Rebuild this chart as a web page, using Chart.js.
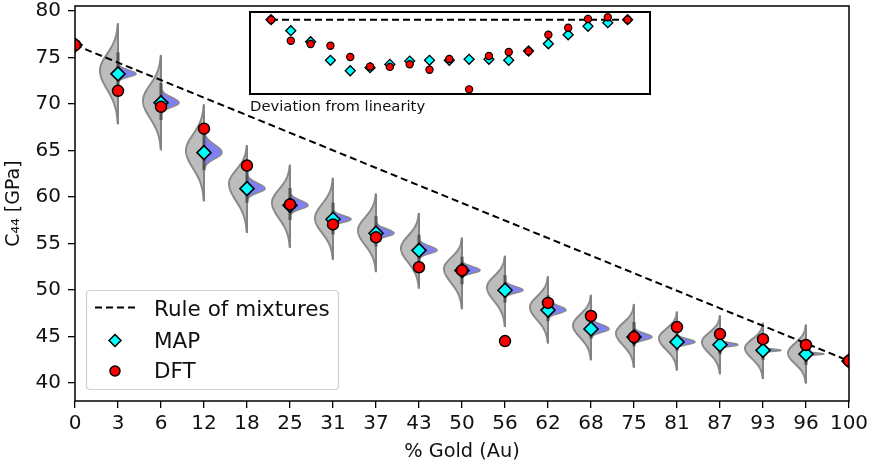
<!DOCTYPE html>
<html>
<head>
<meta charset="utf-8">
<script src="https://cdn.jsdelivr.net/npm/chart.js@4.4.1/dist/chart.umd.min.js"></script>
<style>
  html, body { margin: 0; padding: 0; background: #fff; }
  #wrap { position: relative; width: 871px; height: 462px; }
  #main { position: absolute; left: 0; top: 0; display: block; }
  #inset { position: absolute; left: 247px; top: 9px; display: block; }
  #insetLabel { position: absolute; left: 250px; top: 97px; font-family: "DejaVu Sans"; font-size: 14.8px; color: #111; white-space: nowrap; }
</style>
</head>
<body>
<div id="wrap">
  <canvas id="main" width="871" height="462"></canvas>
  <canvas id="inset" width="406" height="88"></canvas>
  <div id="insetLabel">Deviation from linearity</div>
</div>
<script>
// ---------------- DATA ----------------
const categories = ['0','3','6','12','18','25','31','37','43','50','56','62','68','75','81','87','93','96','100'];

// Rule of mixtures end points (pure Ag / pure Au), GPa
const ruleOfMixturesEnds = [76.35, 42.36];

// MAP estimates, GPa
const mapValues = [76.35, 73.24, 70.13, 64.77, 60.90, 59.10, 57.60, 56.10, 54.26, 52.10, 49.97, 47.83, 45.80, 44.93, 44.40, 44.10, 43.50, 43.10, 42.36];

// DFT values, GPa
const dftValues = [76.35, 71.42, 69.70, 67.35, 63.38, 59.20, 57.05, 55.66, 52.44, 52.10, 44.50, 48.60, 47.20, 44.93, 46.00, 45.25, 44.70, 44.08, 42.36];

// Posterior violin (grey half): upper end, mode, lower end, GPa
const violinTop    = [null, 78.60, 75.20, 69.90, 65.50, 63.40, 62.00, 60.30, 58.20, 55.55, 53.60, 51.40, 49.40, 48.40, 47.60, 47.20, 46.40, 46.20, null];
const violinMode   = [null, 73.60, 70.35, 65.00, 61.45, 59.40, 57.70, 56.40, 54.50, 52.30, 50.30, 48.15, 46.20, 45.35, 44.80, 44.40, 43.75, 43.20, null];
const violinBottom = [null, 67.90, 65.10, 59.60, 56.20, 54.60, 53.30, 52.00, 50.20, 48.00, 46.10, 44.30, 42.50, 41.70, 41.40, 41.00, 40.50, 40.00, null];
// Blue half spread around the MAP value, GPa
const blueSpread   = [null, 0.32, 0.45, 0.65, 0.45, 0.40, 0.30, 0.35, 0.35, 0.30, 0.30, 0.35, 0.35, 0.30, 0.25, 0.16, 0.10, 0.09, null];

// Inset: deviation from linearity, GPa
const insetMAP = [0, -2.02, -4.04, -7.45, -9.36, -8.80, -8.20, -7.60, -7.45, -7.45, -7.27, -7.27, -7.45, -5.75, -4.42, -2.76, -1.21, -0.55, 0];
const insetDFT = [0, -3.85, -4.46, -4.77, -6.85, -8.60, -8.66, -8.17, -9.17, -7.20, -12.78, -6.66, -5.93, -5.81, -2.76, -1.47, 0.13, 0.44, 0];

// ---------------- STYLE ----------------
const FONT = 'DejaVu Sans';
const GREY_FILL = '#bdbdbd', GREY_EDGE = '#8a8a8a', BLUE_FILL = 'rgb(128,128,245)';
const HALF_W = 18;

const ruleSeries = categories.map((c, i) => i === 0 ? ruleOfMixturesEnds[0] : (i === categories.length - 1 ? ruleOfMixturesEnds[1] : null));

const violinPlugin = {
  id: 'violins',
  beforeDatasetsDraw(chart) {
    const { ctx, chartArea: a, scales: { x, y } } = chart;
    ctx.save();
    ctx.beginPath(); ctx.rect(a.left, a.top, a.right - a.left, a.bottom - a.top); ctx.clip();
    for (let i = 0; i < categories.length; i++) {
      if (violinTop[i] == null) continue;
      const cx = x.getPixelForValue(i);
      const pt = y.getPixelForValue(violinTop[i]);
      const pm = y.getPixelForValue(violinMode[i]);
      const pb = y.getPixelForValue(violinBottom[i]);
      const su = (pm - pt) / 2.8, sd = (pb - pm) / 2.8;
      // grey left half
      ctx.beginPath();
      ctx.moveTo(cx, pt);
      for (let py = pt; py <= pb; py += 0.5) {
        const s = py < pm ? su : sd;
        const d = (py - pm) / s;
        ctx.lineTo(cx - HALF_W * Math.exp(-0.5 * d * d), py);
      }
      ctx.lineTo(cx, pb);
      ctx.closePath();
      ctx.fillStyle = GREY_FILL; ctx.fill();
      ctx.lineWidth = 2; ctx.strokeStyle = GREY_EDGE; ctx.lineJoin = 'round'; ctx.stroke();
      // blue right half
      const pc = y.getPixelForValue(mapValues[i]);
      const sbPx = Math.abs(y.getPixelForValue(mapValues[i] + blueSpread[i]) - pc);
      const sbu = sbPx * 1.3, sbd = sbPx;
      const bt = pc - 3 * sbu, bb = pc + 3 * sbd;
      ctx.beginPath();
      ctx.moveTo(cx, bt);
      for (let py = bt; py <= bb; py += 0.25) {
        const s = py < pc ? sbu : sbd;
        const d = (py - pc) / s;
        ctx.lineTo(cx + HALF_W * Math.exp(-0.5 * d * d), py);
      }
      ctx.lineTo(cx, bb);
      ctx.closePath();
      ctx.fillStyle = BLUE_FILL; ctx.fill();
      ctx.lineWidth = 1.5; ctx.strokeStyle = GREY_EDGE; ctx.stroke();
      // inner lines
      ctx.beginPath(); ctx.moveTo(cx, pt); ctx.lineTo(cx, pb);
      ctx.lineWidth = 1.5; ctx.strokeStyle = '#808080'; ctx.stroke();
      ctx.beginPath(); ctx.moveTo(cx, pm - 1.1 * su); ctx.lineTo(cx, pm + 1.1 * sd);
      ctx.lineWidth = 3; ctx.strokeStyle = '#555'; ctx.stroke();
    }
    ctx.restore();
  }
};

function drawDiamond(ctx, x, y, r) {
  ctx.beginPath(); ctx.moveTo(x, y - r); ctx.lineTo(x + r, y); ctx.lineTo(x, y + r); ctx.lineTo(x - r, y); ctx.closePath();
}

const framePlugin = {
  id: 'frameLegend',
  afterDraw(chart) {
    const { ctx, chartArea: a } = chart;
    ctx.save();
    ctx.lineWidth = 1.5; ctx.strokeStyle = '#000';
    ctx.strokeRect(a.left, a.top, a.right - a.left, a.bottom - a.top);
    // legend
    const lx = 86.5, ly = 290.5, lw = 252, lh = 99, r = 4;
    ctx.beginPath();
    ctx.moveTo(lx + r, ly); ctx.lineTo(lx + lw - r, ly); ctx.quadraticCurveTo(lx + lw, ly, lx + lw, ly + r);
    ctx.lineTo(lx + lw, ly + lh - r); ctx.quadraticCurveTo(lx + lw, ly + lh, lx + lw - r, ly + lh);
    ctx.lineTo(lx + r, ly + lh); ctx.quadraticCurveTo(lx, ly + lh, lx, ly + lh - r);
    ctx.lineTo(lx, ly + r); ctx.quadraticCurveTo(lx, ly, lx + r, ly); ctx.closePath();
    ctx.fillStyle = 'rgba(255,255,255,0.8)'; ctx.fill();
    ctx.lineWidth = 1.2; ctx.strokeStyle = '#d0d0d0'; ctx.stroke();
    // entries
    ctx.strokeStyle = '#000'; ctx.lineWidth = 2; ctx.setLineDash([7, 4]);
    ctx.beginPath(); ctx.moveTo(95, 307.5); ctx.lineTo(137, 307.5); ctx.stroke();
    ctx.setLineDash([]);
    drawDiamond(ctx, 115, 340.5, 6);
    ctx.fillStyle = 'cyan'; ctx.fill(); ctx.lineWidth = 1.5; ctx.strokeStyle = '#000'; ctx.stroke();
    ctx.beginPath(); ctx.arc(115, 371, 5, 0, Math.PI * 2);
    ctx.fillStyle = '#ff0000'; ctx.fill(); ctx.stroke();
    ctx.fillStyle = '#111'; ctx.font = '21.5px "' + FONT + '"'; ctx.textBaseline = 'alphabetic'; ctx.textAlign = 'left';
    ctx.fillText('Rule of mixtures', 154, 315.5);
    ctx.fillText('MAP', 154, 347.5);
    ctx.fillText('DFT', 154, 378);
    ctx.restore();
  }
};

Chart.defaults.font.family = FONT;
Chart.defaults.color = '#111';

new Chart(document.getElementById('main'), {
  type: 'line',
  data: {
    labels: categories,
    datasets: [
      { label: 'DFT', data: dftValues, showLine: false, pointStyle: 'circle', pointRadius: 5.5, pointBorderWidth: 1.5,
        pointBackgroundColor: '#ff0000', pointBorderColor: '#000', order: 0, clip: 0 },
      { label: 'MAP', data: mapValues, showLine: false, pointStyle: 'rectRot', pointRadius: 7, pointBorderWidth: 1.6,
        pointBackgroundColor: 'cyan', pointBorderColor: '#000', order: 1, clip: 0 },
      { label: 'Rule of mixtures', data: ruleSeries, spanGaps: true, borderColor: '#000', borderWidth: 2,
        borderDash: [7, 4], pointRadius: 0, order: 2, clip: 0 }
    ]
  },
  options: {
    responsive: false, animation: false, devicePixelRatio: 1,
    layout: { autoPadding: false, padding: { left: 0, right: 22, top: 6, bottom: 0 } },
    plugins: { legend: { display: false }, tooltip: { enabled: false } },
    scales: {
      x: {
        type: 'category', offset: false,
        grid: { display: true, drawOnChartArea: false, drawTicks: true, tickLength: 7, color: '#000', lineWidth: 1.3 },
        border: { display: false },
        ticks: { autoSkip: false, maxRotation: 0, padding: 4, font: { size: 20 }, color: '#111' },
        title: { display: true, text: '% Gold (Au)', font: { size: 19.3, lineHeight: 1.0 }, padding: { top: 0, bottom: 0 }, color: '#111' },
        afterFit(s) { s.height = 61; s.paddingLeft = 0; s.paddingRight = 0; }
      },
      y: {
        min: 38.05, max: 80.55,
        grid: { display: true, drawOnChartArea: false, drawTicks: true, tickLength: 7, color: '#000', lineWidth: 1.3 },
        border: { display: false },
        ticks: { stepSize: 5, includeBounds: false, padding: 7, font: { size: 20 }, color: '#111' },
        title: { display: true, text: 'C₄₄ [GPa]', font: { size: 19 }, padding: { top: 3, bottom: 0 }, color: '#111' },
        afterFit(s) { s.width = 75; s.paddingTop = 0; s.paddingBottom = 0; }
      }
    }
  },
  plugins: [violinPlugin, framePlugin]
});

// ---------------- INSET ----------------
const insetFrame = {
  id: 'insetFrame',
  beforeDraw(chart) {
    const { ctx, chartArea: a } = chart;
    ctx.save(); ctx.fillStyle = '#fff';
    ctx.fillRect(a.left, a.top, a.right - a.left, a.bottom - a.top); ctx.restore();
  },
  afterDraw(chart) {
    const { ctx, chartArea: a } = chart;
    ctx.save(); ctx.lineWidth = 2; ctx.strokeStyle = '#000';
    ctx.strokeRect(a.left, a.top, a.right - a.left, a.bottom - a.top); ctx.restore();
  }
};
const idx = categories.map((c, i) => i);
new Chart(document.getElementById('inset'), {
  type: 'scatter',
  data: {
    datasets: [
      { label: 'DFT', data: idx.map(i => ({ x: i, y: insetDFT[i] })), pointStyle: 'circle', pointRadius: 3.6, pointBorderWidth: 1.2,
        pointBackgroundColor: '#ff0000', pointBorderColor: '#000', order: 0, clip: false },
      { label: 'MAP', data: idx.map(i => ({ x: i, y: insetMAP[i] })), pointStyle: 'rectRot', pointRadius: 5, pointBorderWidth: 1.3,
        pointBackgroundColor: 'cyan', pointBorderColor: '#000', order: 1, clip: false },
      { label: 'Linear', data: [{ x: 0, y: 0 }, { x: categories.length - 1, y: 0 }], showLine: true, borderColor: '#000', borderWidth: 2,
        borderDash: [7, 4], pointRadius: 0, order: 2 }
    ]
  },
  options: {
    responsive: false, animation: false, devicePixelRatio: 1,
    layout: { autoPadding: false, padding: 3 },
    plugins: { legend: { display: false }, tooltip: { enabled: false } },
    scales: {
      x: { type: 'linear', min: -1.06, max: 19.13, display: false },
      y: { type: 'linear', min: -13.63, max: 1.41, display: false }
    }
  },
  plugins: [insetFrame]
});
</script>
</body>
</html>
